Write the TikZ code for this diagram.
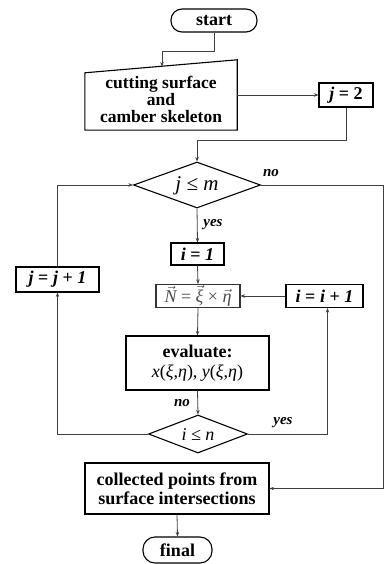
\documentclass[tikz,border=0pt]{standalone}
\usepackage{fontspec}
\setmainfont{Liberation Serif}
\usetikzlibrary{shapes.geometric,arrows.meta,calc}
\newcommand{\vecit}[1]{\ensuremath{\vec{\hbox{\itshape #1}}}}
\tikzset{
  box/.style={draw=black, line width=1.1pt, rectangle, inner sep=0pt, align=center,
    font=\bfseries\fontsize{18}{19}\selectfont},
  term/.style={box, rounded corners=11pt},
  dia/.style={draw=black, line width=1.1pt, diamond, inner sep=0pt, aspect=2.7},
  conn/.style={draw=black!75, line width=0.8pt},
  arr/.style={conn, -{Stealth[length=4.5pt,width=3.5pt]}},
  lab/.style={font=\bfseries\itshape\fontsize{15}{15}\selectfont, inner sep=1pt},
}
\begin{document}
\begin{tikzpicture}[x=1pt,y=-1pt]
\useasboundingbox (0,0) rectangle (385,564);
% nodes
\node[term, minimum width=86pt, minimum height=23pt] (start) at (214,20.5) {start};
\node[rectangle, inner sep=0pt, minimum width=152pt, minimum height=70pt] (inp) at (161,95) {};
\draw[line width=1.1pt] (inp.south west) -- (inp.south east) -- (inp.north east)
   -- ($(inp.north west)+(0,13)$) -- cycle;
\node[align=center, inner sep=0pt, font=\bfseries\fontsize{17.5}{17}\selectfont] (inptext) at (161,99)
   {cutting surface\\and\\camber skeleton};
\coordinate (inptop) at (162,66.6);
\node[box, minimum width=54pt, minimum height=24pt] (j2) at (346,95) {\textit{j} = 2};
\node[dia, minimum width=127pt, minimum height=46pt] (d1) at (197,185) {};
\node[font=\itshape\fontsize{21}{21}\selectfont, inner sep=0pt] (d1t) at (197,186) {j ≤ m};
\node[box, minimum width=53pt, minimum height=22pt] (i1) at (197.5,254) {\textit{i} = \textit{1}};
\node[box, minimum width=83pt, minimum height=25pt] (jinc) at (57.5,279.5) {\textit{j} = \textit{j} + \textit{1}};
\node[box, draw=black!80, minimum width=84pt, minimum height=23pt, font=\fontsize{18}{18}\selectfont, text=black!70] (N) at (198,296)
   {\vecit{N} = \vecit{ξ} × \vecit{η}};
\node[box, minimum width=77pt, minimum height=23pt] (iinc) at (324.5,296) {\textit{i} = \textit{i} + \textit{1}};
\node[box, minimum width=143pt, minimum height=54pt] (eval) at (197.5,363)
   {evaluate:\\[1pt]\mdseries\textit{x}(\textit{ξ},\textit{η}), \textit{y}(\textit{ξ},\textit{η})};
\node[dia, minimum width=99pt, minimum height=38pt] (d2) at (198,434) {};
\node[font=\itshape\fontsize{18}{18}\selectfont, inner sep=0pt] (d2t) at (198,435) {i ≤ n};
\node[box, minimum width=184pt, minimum height=51pt] (coll) at (177,488.5)
   {collected points from\\surface intersections};
\node[term, minimum width=69pt, minimum height=26pt, rounded corners=12pt] (final) at (177.5,550) {final};
\coordinate (rr) at (383,185);
% connectors
\draw[arr] (start.south) -- ++(0,19) -| (inptop);
\draw[arr] (inp.east |- j2.west) -- (j2.west);
\draw[arr] (j2.south) -- ++(0,33) -| (d1.north);
\draw[conn] (d1.east) -- (rr);
\draw[arr] (rr) |- (coll.east);
\node[lab] (no1) at (271,173) {no};
\draw[arr] (d1.south) -- (i1.north);
\node[lab] (yes1) at (213,225) {yes};
\draw[arr] (i1.south) -- (N.north);
\draw[arr] (iinc.west) -- (N.east);
\draw[arr] (N.south) -- (eval.north);
\draw[arr] (eval.south) -- (d2.north);
\node[lab] (no2) at (182,403) {no};
\draw[arr] (d2.east) -| ($(iinc.south)+(3,0)$);
\node[lab] (yes2) at (283,423) {yes};
\draw[arr] (d2.west) -| (jinc.south);
\draw[arr] (jinc.north) |- (d1.west);
\draw[arr] (coll.south) -- (final.north);
\end{tikzpicture}
\end{document}
